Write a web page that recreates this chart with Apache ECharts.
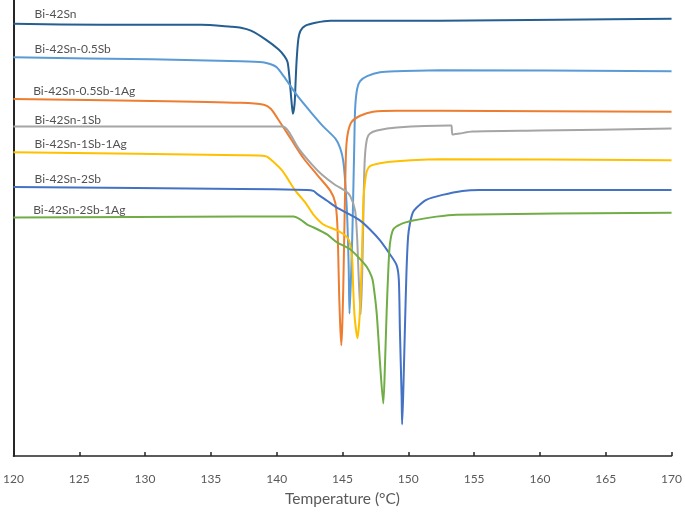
<!DOCTYPE html>
<html>
<head>
<meta charset="utf-8">
<script src="https://cdn.jsdelivr.net/npm/echarts@6/dist/echarts.min.js"></script>
<style>
html,body{margin:0;padding:0;background:#fff;}
#chart{width:685px;height:512px;}
</style>
</head>
<body>
<div id="chart"></div>
<script>
// Series names (as labelled on the chart)
const seriesNames = ["Bi-42Sn","Bi-42Sn-0.5Sb","Bi-42Sn-0.5Sb-1Ag","Bi-42Sn-1Sb","Bi-42Sn-1Sb-1Ag","Bi-42Sn-2Sb","Bi-42Sn-2Sb-1Ag"];
const seriesColors = ["#255E91","#5B9BD5","#ED7D31","#A5A5A5","#FFC000","#4472C4","#70AD47"];
// x tick values (°C)
const xTicks = [120,125,130,135,140,145,150,155,160,165,170];

// Each curve: [temperature °C, heat flow (arbitrary units, offset curves)]
const bi42Sn = [[120,43.7],[126.72,43.6],[134.26,43.6],[136.53,43.4],[137.28,43.3],[138.04,43.0],[139.17,42.1],[140.15,41.1],[140.60,40.4],[140.83,39.8],[140.98,38.1],[141.13,35.8],[141.23,34.6],[141.36,35.6],[141.43,37.6],[141.51,39.9],[141.64,42.1],[141.81,43.0],[142.19,43.5],[142.94,43.8],[144.08,44.0],[145.58,44.0],[152.38,44.0],[161.43,44.1],[170,44.2]];
const bi42Sn05Sb = [[120,40.3],[130.49,40.1],[137.28,39.9],[138.94,39.8],[139.55,39.6],[140.00,39.3],[140.53,38.4],[141.58,36.4],[142.57,34.8],[143.55,33.3],[144.45,32.1],[144.83,31.1],[145.06,29.8],[145.21,27.6],[145.36,24.1],[145.47,19.1],[145.53,14.4],[145.62,17.1],[145.74,22.1],[145.81,26.1],[145.89,31.1],[145.96,35.1],[146.11,37.1],[146.34,37.9],[146.87,38.4],[147.85,38.8],[149.13,38.9],[152.38,39.0],[170,38.9]];
const bi42Sn05Sb1Ag = [[120,36.1],[130.49,35.9],[137.28,35.7],[139.02,35.5],[139.55,35.1],[140.08,34.1],[141.06,32.1],[142.04,30.1],[143.09,28.4],[144.08,26.8],[144.45,25.6],[144.60,23.6],[144.68,20.1],[144.75,16.1],[144.83,13.1],[144.91,11.2],[144.98,13.1],[145.06,17.1],[145.13,22.1],[145.21,27.6],[145.28,31.1],[145.43,32.8],[145.71,33.8],[146.34,34.4],[147.32,34.8],[149.13,34.9],[152.38,34.9],[170,34.8]];
const bi42Sn1Sb = [[120,33.3],[137.28,33.3],[140.45,33.3],[140.91,32.8],[141.66,31.1],[142.72,29.4],[143.47,28.4],[144.45,27.4],[145.21,26.8],[145.58,26.3],[145.96,24.8],[146.11,22.1],[146.23,18.1],[146.38,14.3],[146.49,18.1],[146.57,23.1],[146.64,28.1],[146.72,30.6],[146.87,32.1],[147.09,32.6],[147.62,32.9],[149.13,33.2],[153.13,33.4],[153.28,33.4],[153.36,32.5],[153.89,32.6],[154.87,32.8],[159.92,32.9],[170,33.1]];
const bi42Sn1Sb1Ag = [[120,30.7],[137.28,30.4],[139.17,30.3],[139.70,29.8],[140.45,28.8],[141.43,26.8],[142.19,25.6],[142.79,24.4],[143.55,23.4],[144.60,22.8],[145.36,22.1],[145.58,21.4],[145.74,19.8],[145.81,17.1],[145.92,14.1],[146.14,11.9],[146.30,14.1],[146.42,18.1],[146.53,23.1],[146.60,26.1],[146.72,27.8],[146.85,28.8],[147.09,29.3],[147.85,29.6],[149.13,29.8],[152.38,30.0],[170,29.9]];
const bi42Sn2Sb = [[120,27.2],[137.28,27.0],[142.32,26.9],[142.79,26.8],[143.07,26.5],[143.83,25.8],[144.58,25.1],[145.58,24.4],[146.34,23.8],[147.09,22.9],[147.85,21.8],[148.60,20.4],[149.11,19.3],[149.28,17.8],[149.36,12.8],[149.49,6.1],[149.53,3.2],[149.61,6.1],[149.74,12.8],[149.86,18.6],[149.98,22.1],[150.11,23.4],[150.34,24.6],[150.62,25.1],[151.37,25.9],[152.60,26.4],[154.11,26.8],[155.40,26.9],[170,26.9]];
const bi42Sn2Sb1Ag = [[120,24.1],[137.28,24.2],[141.28,24.2],[141.81,23.9],[142.32,23.4],[142.82,23.1],[143.83,22.4],[144.58,21.6],[145.58,20.9],[146.34,19.9],[146.85,19.1],[147.22,18.1],[147.34,17.4],[147.60,14.4],[147.85,9.4],[148.10,5.3],[148.23,9.4],[148.35,14.4],[148.48,18.8],[148.60,21.4],[148.85,22.9],[149.36,23.4],[150.36,23.8],[152.13,24.2],[153.64,24.4],[170,24.6]];

const allData = [bi42Sn, bi42Sn05Sb, bi42Sn05Sb1Ag, bi42Sn1Sb, bi42Sn1Sb1Ag, bi42Sn2Sb, bi42Sn2Sb1Ag];
// label anchor points (temperature, heat flow) placed above each curve's start
const labelAnchors = [[121.6,44.7],[121.6,41.1],[121.5,36.9],[121.6,34.0],[121.6,31.5],[121.6,28.0],[121.5,24.9]];

const chart = echarts.init(document.getElementById('chart'), null, {renderer:'canvas'});

const series = allData.map((d,i)=>({
  name: seriesNames[i],
  type: 'line',
  data: d,
  showSymbol: false,
  smooth: 0.25,
  lineStyle: {color: seriesColors[i], width: 2},
  itemStyle: {color: seriesColors[i]},
  z: 2
}));
series.push({
  type: 'scatter',
  data: labelAnchors.map((p,i)=>({value:p, name: seriesNames[i]})),
  symbolSize: 0,
  silent: true,
  label: {
    show: true, position: 'right', distance: 0,
    formatter: p => p.name,
    fontFamily: 'Lato', fontSize: 12, color: '#262626'
  }
});

chart.setOption({
  animation: false,
  grid: {left: 11, right: 11, top: 0, bottom: 51},
  xAxis: {
    type: 'value', min: 120, max: 170, interval: 5,
    name: 'Temperature (°C)', nameLocation: 'middle', nameGap: 35,
    nameTextStyle: {fontFamily: 'Lato', fontSize: 15.5, color: '#595959'},
    axisLine: {show: true, onZero: false, lineStyle: {color: '#262626', width: 1.5}},
    axisTick: {show: true, inside: true, length: 4, lineStyle: {color: '#262626', width: 1.5}},
    axisLabel: {fontFamily: 'Lato', fontSize: 12, color: '#595959', margin: 17},
    splitLine: {show: false}
  },
  yAxis: {
    type: 'value', min: 0, max: 46.1,
    axisLine: {show: true, lineStyle: {color: '#262626', width: 2}},
    axisTick: {show: false},
    axisLabel: {show: false},
    splitLine: {show: false}
  },
  series: series
});
</script>
</body>
</html>
